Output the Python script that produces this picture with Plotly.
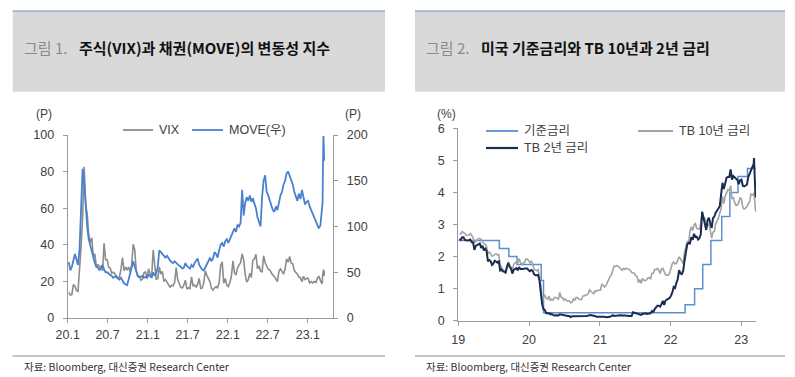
import plotly.graph_objects as go
import pandas as pd

W, H = 795, 377

# ---------------- Data: Figure 1 (weekly Mondays from 2020-01-06 to 2023-03-06, then daily tail) -------------
vix_weekly = [
    # 2020
    14.0, 12.5, 12.8, 18.2,
    17.5, 15.0, 14.5, 25.0,
    39.0, 54.5, 82.7, 61.6, 57.1,
    45.2, 41.2, 43.8, 33.3,
    35.1, 27.6, 29.3, 28.0,
    28.2, 25.8, 40.8, 31.8, 31.8,
    27.7, 27.3, 24.5, 25.0,
    24.3, 22.1, 21.4, 22.4, 26.4,
    33.0, 25.9, 27.8, 26.2,
    27.9, 25.1, 29.2, 40.3,
    37.1, 25.7, 22.5, 22.7, 20.6,
    21.3, 24.7, 25.2, 21.7,
    # 2021
    26.9, 24.1, 22.0, 37.2,
    30.2, 21.2, 21.5, 27.9,
    24.0, 25.5, 20.0, 21.0, 19.6,
    18.0, 16.9, 17.8, 17.6,
    19.5, 27.6, 21.0, 18.4, 16.8,
    16.4, 17.9, 20.7, 15.8,
    16.5, 16.1, 22.5, 17.6,
    18.0, 16.7, 18.5, 21.6, 16.1,
    16.4, 19.4, 25.7, 23.3,
    21.3, 19.9, 16.3, 15.2,
    16.4, 17.2, 16.5, 19.2, 28.6,
    30.7, 19.0, 21.6, 18.0,
    # 2022
    17.2, 19.4, 22.8, 31.2, 24.8,
    23.4, 27.4, 29.0, 30.2,
    35.1, 31.8, 23.5, 19.6,
    21.0, 24.4, 22.2, 31.6,
    32.3, 34.8, 26.9, 28.5, 25.7,
    25.1, 34.0, 30.2, 28.4,
    26.7, 26.2, 24.5, 23.4,
    22.8, 21.3, 19.9, 25.6, 26.8,
    25.5, 24.0, 26.8, 32.3,
    30.5, 33.6, 30.0, 29.6, 25.9,
    25.0, 23.9, 22.4, 22.2,
    19.8, 22.8, 21.0, 21.7,
    # 2023
    21.7, 19.2, 19.9, 19.2, 19.9,
    19.4, 21.5, 22.9, 20.7,
    18.6,
]
move_weekly = [
    # 2020
    61, 52, 56, 63,
    70, 64, 58, 75,
    112, 163, 150, 118, 100,
    86, 79, 72, 68,
    60, 56, 55, 52,
    55, 58, 53, 50, 50,
    48, 47, 46, 44,
    45, 46, 44, 42, 44,
    40, 38, 37, 36,
    42, 50, 54, 62,
    56, 52, 46, 45, 45,
    46, 44, 45, 44,
    # 2021
    47, 46, 44, 50,
    46, 49, 56, 74,
    72, 70, 67, 66, 68,
    65, 63, 61, 60,
    62, 60, 58, 57, 56,
    54, 55, 60, 57,
    55, 54, 58, 56,
    60, 62, 65, 58, 55,
    53, 52, 55, 58,
    62, 66, 62, 65,
    72, 70, 66, 74, 80,
    82, 78, 84, 86,
    # 2022
    82, 86, 88, 92, 98,
    94, 102, 100, 104,
    140, 112, 126, 132,
    128, 134, 127, 131,
    125, 120, 110, 104, 100,
    132, 150, 156, 138,
    134, 128, 122, 118,
    116, 122, 118, 128, 134,
    138, 146, 150, 158,
    160, 156, 150, 146, 138,
    134, 128, 136, 130,
    140, 130, 124, 127,
    # 2023
    128, 122, 118, 114, 110,
    104, 100, 98, 101,
    115,
]
tail_dates = ["2023-03-07", "2023-03-08", "2023-03-09", "2023-03-10", "2023-03-13",
              "2023-03-14", "2023-03-15", "2023-03-16", "2023-03-17"]
vix_tail = [19.6, 19.1, 22.6, 24.8, 26.5, 23.7, 26.1, 23.0, 25.5]
move_tail = [118, 122, 126, 150, 199, 190, 186, 172, 173]

fig1_xticks = ["2020-01-01", "2020-07-01", "2021-01-01", "2021-07-01",
               "2022-01-01", "2022-07-01", "2023-01-01"]
fig1_xlabels = ["20.1", "20.7", "21.1", "21.7", "22.1", "22.7", "23.1"]

# ---------------- Data: Figure 2 (weekly Mondays from 2019-01-07 to 2023-03-06, then daily tail) -------------
tb10_weekly = [
    # 2019
    2.70, 2.71, 2.78, 2.75,
    2.72, 2.66, 2.66, 2.67,
    2.72, 2.64, 2.60, 2.42,
    2.49, 2.52, 2.56, 2.57, 2.53,
    2.47, 2.40, 2.39, 2.32,
    2.08, 2.14, 2.09, 2.01,
    2.03, 2.05, 2.09, 2.05, 2.06,
    1.75, 1.65, 1.60, 1.54,
    1.50, 1.63, 1.84, 1.72, 1.68,
    1.56, 1.76, 1.80, 1.84,
    1.79, 1.94, 1.81, 1.76,
    1.80, 1.82, 1.92, 1.92, 1.88,
    # 2020
    1.81, 1.85, 1.78, 1.61,
    1.59, 1.56, 1.59, 1.37,
    1.10, 0.54, 0.73, 0.79, 0.70,
    0.67, 0.77, 0.62, 0.67,
    0.64, 0.72, 0.73, 0.69,
    0.67, 0.88, 0.73, 0.72, 0.64,
    0.68, 0.62, 0.61, 0.62,
    0.56, 0.57, 0.68, 0.64, 0.72,
    0.72, 0.67, 0.67, 0.66,
    0.77, 0.77, 0.80, 0.80,
    0.85, 0.96, 0.91, 0.88, 0.84,
    0.93, 0.91, 0.95, 0.94,
    # 2021
    0.95, 1.15, 1.09, 1.05,
    1.09, 1.19, 1.30, 1.37,
    1.43, 1.59, 1.70, 1.69, 1.72,
    1.70, 1.66, 1.60, 1.57,
    1.63, 1.60, 1.64, 1.61, 1.58,
    1.57, 1.50, 1.48, 1.48,
    1.41, 1.37, 1.19, 1.28,
    1.17, 1.32, 1.26, 1.25, 1.28,
    1.33, 1.34, 1.31, 1.48,
    1.48, 1.60, 1.59, 1.63,
    1.58, 1.47, 1.61, 1.63, 1.49,
    1.43, 1.42, 1.42, 1.48,
    # 2022
    1.63, 1.78, 1.83, 1.77, 1.78,
    1.92, 1.99, 1.93, 1.83,
    1.78, 2.14, 2.32, 2.46,
    2.42, 2.79, 2.93, 2.81,
    2.99, 3.03, 2.88, 2.86, 2.85,
    3.04, 3.37, 3.23, 3.20,
    2.89, 2.99, 3.03, 2.81,
    2.58, 2.76, 2.79, 3.03, 3.11,
    3.19, 3.36, 3.49, 3.88,
    3.65, 3.88, 4.01, 4.09, 4.05,
    4.21, 3.81, 3.83, 3.68,
    3.60, 3.61, 3.69, 3.84,
    # 2023
    3.79, 3.53, 3.48, 3.51, 3.55,
    3.64, 3.71, 3.95, 3.92,
    3.96,
]
tb2_weekly = [
    # 2019
    2.55, 2.52, 2.60, 2.60,
    2.52, 2.50, 2.50, 2.51,
    2.53, 2.45, 2.45, 2.21,
    2.33, 2.36, 2.40, 2.41, 2.27,
    2.34, 2.19, 2.25, 2.17,
    1.85, 1.89, 1.86, 1.74,
    1.78, 1.87, 1.84, 1.81, 1.87,
    1.57, 1.60, 1.54, 1.53,
    1.50, 1.68, 1.80, 1.68, 1.62,
    1.47, 1.59, 1.61, 1.64,
    1.57, 1.67, 1.61, 1.60,
    1.61, 1.63, 1.64, 1.63, 1.57,
    # 2020
    1.54, 1.58, 1.56, 1.45,
    1.42, 1.42, 1.43, 1.26,
    0.88, 0.50, 0.36, 0.33, 0.23,
    0.23, 0.23, 0.20, 0.21,
    0.18, 0.16, 0.17, 0.17,
    0.16, 0.20, 0.19, 0.19, 0.16,
    0.16, 0.16, 0.15, 0.15,
    0.11, 0.14, 0.14, 0.15, 0.14,
    0.14, 0.14, 0.14, 0.13,
    0.15, 0.15, 0.14, 0.15,
    0.16, 0.18, 0.18, 0.16, 0.16,
    0.15, 0.12, 0.12, 0.12,
    # 2021
    0.12, 0.14, 0.13, 0.12,
    0.11, 0.11, 0.11, 0.12,
    0.14, 0.17, 0.15, 0.15, 0.14,
    0.16, 0.17, 0.16, 0.16,
    0.16, 0.16, 0.15, 0.15, 0.15,
    0.15, 0.15, 0.26, 0.25,
    0.23, 0.22, 0.21, 0.20,
    0.18, 0.21, 0.22, 0.23, 0.21,
    0.21, 0.21, 0.23, 0.30,
    0.28, 0.36, 0.43, 0.47,
    0.47, 0.44, 0.51, 0.62, 0.49,
    0.63, 0.66, 0.68, 0.71,
    # 2022
    0.78, 0.88, 1.05, 1.02, 1.18,
    1.30, 1.58, 1.47, 1.45,
    1.55, 1.87, 2.12, 2.38,
    2.43, 2.41, 2.60, 2.52,
    2.71, 2.61, 2.62, 2.53, 2.57,
    2.70, 3.40, 3.19, 3.07,
    2.83, 3.14, 3.21, 3.04,
    2.89, 3.20, 3.25, 3.37, 3.45,
    3.51, 3.57, 3.95, 4.30,
    4.11, 4.31, 4.46, 4.48, 4.48,
    4.72, 4.40, 4.51, 4.47,
    4.40, 4.39, 4.26, 4.38,
    # 2023
    4.40, 4.21, 4.19, 4.23, 4.24,
    4.48, 4.60, 4.70, 4.78,
    4.89,
]
tb10_tail = [3.97, 3.99, 3.90, 3.70, 3.57, 3.64, 3.46, 3.57, 3.39]
tb2_tail = [5.01, 5.07, 4.88, 4.59, 4.03, 4.24, 3.93, 4.16, 3.84]

fed_dates = ["2019-01-01", "2019-08-01", "2019-09-19", "2019-10-31", "2020-03-04",
             "2020-03-16", "2022-03-17", "2022-05-05", "2022-06-16", "2022-07-28",
             "2022-09-22", "2022-11-03", "2022-12-15", "2023-02-02", "2023-03-17"]
fed_rate = [2.50, 2.25, 2.00, 1.75, 1.25, 0.25, 0.50, 1.00, 1.75, 2.50,
            3.25, 4.00, 4.50, 4.75, 4.75]

fig2_xticks = ["2019-01-01", "2020-01-01", "2021-01-01", "2022-01-01", "2023-01-01"]
fig2_xlabels = ["19", "20", "21", "22", "23"]

# ---------------- Build dates ----------------
d1 = list(pd.date_range("2020-01-06", periods=len(vix_weekly), freq="W-MON")) + list(pd.to_datetime(tail_dates))
d2 = list(pd.date_range("2019-01-07", periods=len(tb10_weekly), freq="W-MON")) + list(pd.to_datetime(tail_dates))
vix = vix_weekly + vix_tail
move = move_weekly + move_tail
tb10 = tb10_weekly + tb10_tail
tb2 = tb2_weekly + tb2_tail

# ---------------- Styling ----------------
FONT = "Liberation Sans, Arial, Noto Sans CJK KR, sans-serif"
KFONT = "Noto Sans CJK KR, sans-serif"
C_VIX = "#8c8c8c"
C_MOVE = "#4a80d0"
C_FED = "#5b8fd3"
C_T10 = "#a3a3a3"
C_T2 = "#1b2d4f"
AX = "#9a9a9a"
TXT = "#404040"


def px(x):
    return x / W


def py(y):
    return 1 - y / H


fig = go.Figure()
fig.add_trace(go.Scatter(x=d1, y=vix, mode="lines", line=dict(color=C_VIX, width=1.6),
                         xaxis="x", yaxis="y", showlegend=False))
fig.add_trace(go.Scatter(x=d1, y=move, mode="lines", line=dict(color=C_MOVE, width=1.8),
                         xaxis="x", yaxis="y2", showlegend=False))
fig.add_trace(go.Scatter(x=pd.to_datetime(fed_dates), y=fed_rate, mode="lines", line_shape="hv",
                         line=dict(color=C_FED, width=1.5), xaxis="x2", yaxis="y3", showlegend=False))
fig.add_trace(go.Scatter(x=d2, y=tb10, mode="lines", line=dict(color=C_T10, width=1.6),
                         xaxis="x2", yaxis="y3", showlegend=False))
fig.add_trace(go.Scatter(x=d2, y=tb2, mode="lines", line=dict(color=C_T2, width=2.0),
                         xaxis="x2", yaxis="y3", showlegend=False))

axis_common = dict(showgrid=False, zeroline=False, showline=True, linecolor=AX, linewidth=1,
                   ticks="outside", ticklen=4, tickcolor=AX, automargin=False,
                   tickfont=dict(family=FONT, size=12.5, color=TXT))

fig.update_layout(
    template="none",
    width=W, height=H, margin=dict(l=0, r=0, t=0, b=0, pad=0), autosize=False,
    paper_bgcolor="white", plot_bgcolor="white",
    xaxis=dict(domain=[px(67.7), px(333.3)], anchor="y", type="date",
               range=["2020-01-01", "2023-04-27"], tickmode="array",
               tickvals=fig1_xticks, ticktext=fig1_xlabels, ticklabelstandoff=1, **axis_common),
    yaxis=dict(domain=[py(318), py(135)], anchor="x", range=[0, 100], dtick=20,
               ticklabelstandoff=6, **axis_common),
    yaxis2=dict(overlaying="y", side="right", anchor="x", range=[0, 200], dtick=50,
                ticklabelstandoff=6, **axis_common),
    xaxis2=dict(domain=[px(458.3), px(756)], anchor="y3", type="date",
                range=["2019-01-01", "2023-03-18"], tickmode="array",
                tickvals=fig2_xticks, ticktext=fig2_xlabels, ticklabelstandoff=3, **axis_common),
    yaxis3=dict(domain=[py(320.7), py(128.3)], anchor="x2", range=[0, 6], dtick=1,
                ticklabelstandoff=6, **axis_common),
)

shapes = []
annotations = []

# Title boxes and footers
for (x0, x1, num, title) in [(12.7, 385, "그림 1.", "주식(VIX)과 채권(MOVE)의 변동성 지수"),
                             (415, 785, "그림 2.", "미국 기준금리와 TB 10년과 2년 금리")]:
    shapes.append(dict(type="rect", xref="paper", yref="paper", x0=px(x0), x1=px(x1),
                       y0=py(91.7), y1=py(11), fillcolor="#d9d9d9", line=dict(width=0), layer="below"))
    shapes.append(dict(type="line", xref="paper", yref="paper", x0=px(x0), x1=px(x1),
                       y0=py(11), y1=py(11), line=dict(color="#6d8cc0", width=1)))
    shapes.append(dict(type="line", xref="paper", yref="paper", x0=px(x0), x1=px(x1),
                       y0=py(356), y1=py(356), line=dict(color="#8a8a8a", width=1)))
    annotations.append(dict(xref="paper", yref="paper", x=px(x0 + 9), y=py(48), xanchor="left",
                            yanchor="middle", showarrow=False, text=num,
                            font=dict(family=KFONT, size=15, color="#8a8a8a")))
    annotations.append(dict(xref="paper", yref="paper", x=px(x0 + 64), y=py(48), xanchor="left",
                            yanchor="middle", showarrow=False, text="<b>" + title + "</b>",
                            font=dict(family=KFONT, size=15, color="#111111")))
    annotations.append(dict(xref="paper", yref="paper", x=px(x0 + 9), y=py(366), xanchor="left",
                            yanchor="middle", showarrow=False,
                            text="자료: Bloomberg, 대신증권 Research Center",
                            font=dict(family=KFONT, size=10.5, color="#333333")))

# Unit labels
for (x, t) in [(44, "(P)"), (353, "(P)"), (446, "(%)")]:
    annotations.append(dict(xref="paper", yref="paper", x=px(x), y=py(114), xanchor="center",
                            yanchor="middle", showarrow=False, text=t,
                            font=dict(family=FONT, size=12, color=TXT)))

# Legends (line samples + labels)
legend_items = [
    (123, 153, 130, C_VIX, 1.8, "VIX"),
    (192, 223, 130, C_MOVE, 1.8, "MOVE(우)"),
    (486, 518, 131, C_FED, 1.8, "기준금리"),
    (638, 673, 131, C_T10, 1.8, "TB 10년 금리"),
    (486, 518, 148, C_T2, 2.2, "TB 2년 금리"),
]
for (x0, x1, y, c, w, t) in legend_items:
    shapes.append(dict(type="line", xref="paper", yref="paper", x0=px(x0), x1=px(x1),
                       y0=py(y), y1=py(y), line=dict(color=c, width=w)))
    annotations.append(dict(xref="paper", yref="paper", x=px(x1 + 4), y=py(y), xanchor="left",
                            yanchor="middle", showarrow=False, text=t,
                            font=dict(family=FONT, size=12.5, color=TXT)))

fig.update_layout(shapes=shapes, annotations=annotations)
fig.write_html("out.html", config={"displayModeBar": False},
               post_script="document.body.style.margin='0';document.body.style.overflow='hidden';")
